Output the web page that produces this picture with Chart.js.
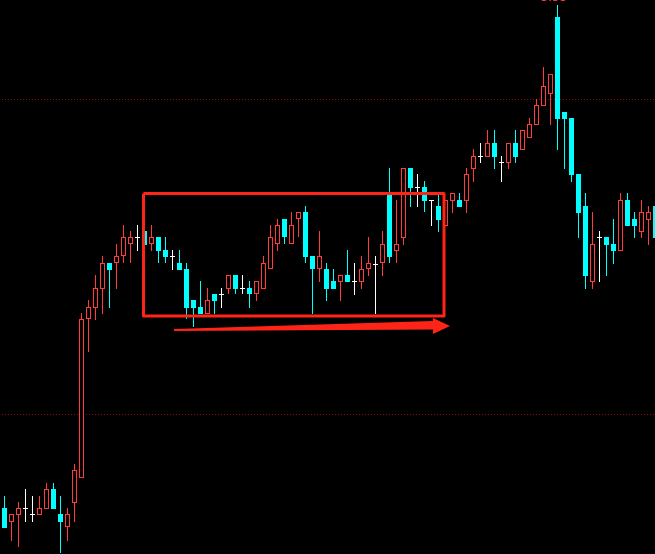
<!DOCTYPE html>
<html><head><meta charset="utf-8">
<script src="https://cdn.jsdelivr.net/npm/chart.js@4/dist/chart.umd.min.js"></script>
<style>html,body{margin:0;padding:0;background:#000;overflow:hidden}canvas{display:block;background:#000}</style>
</head><body><canvas id="c" width="655" height="554"></canvas>
<script>
// OHLC values (price units)
const opens  = [46,32,39,46,40,39,45,65,40,27,51,76,235,246,265,291,291,298,310,317,323,310,317,304,298,291,285,254,247,240,260,260,265,279,266,266,260,265,285,310,335,310,335,342,298,285,285,273,272,279,273,272,285,290,291,359,303,316,386,367,367,354,348,328,353,354,353,385,398,397,411,392,391,411,404,416,429,448,460,537,442,436,380,348,272,317,317,310,303,354,335,322,334,348];
const highs  = [58,40,52,65,58,58,71,71,58,46,90,241,254,279,298,291,310,329,323,329,323,329,317,317,304,304,291,254,273,266,260,266,279,279,279,273,273,298,329,335,335,342,342,348,298,323,291,285,279,304,291,298,317,298,323,386,354,386,386,380,373,354,359,354,361,361,386,405,411,424,424,398,411,424,424,436,455,487,480,549,442,436,380,361,342,323,317,335,361,361,342,354,348,348];
const lows   = [26,13,7,32,32,39,45,45,1,13,32,76,202,234,240,246,265,291,291,303,306,303,291,291,284,284,235,227,240,240,240,246,260,260,260,246,253,265,285,303,310,310,317,291,240,272,253,265,253,272,259,265,278,240,278,291,291,309,347,347,342,328,322,328,341,347,341,372,391,397,385,372,385,391,404,416,429,448,429,404,385,372,316,265,265,272,278,290,303,328,316,316,309,316];
const closes = [26,40,46,46,40,46,65,45,32,40,84,235,247,266,291,284,298,317,317,317,309,317,303,297,298,284,246,246,240,254,253,260,279,265,266,260,273,291,317,329,317,329,342,297,285,298,265,265,279,272,273,285,291,290,310,297,310,386,366,367,353,354,334,354,361,347,380,398,398,411,397,392,411,397,424,430,449,468,480,435,435,379,341,278,310,317,309,303,354,328,328,342,342,316];
const sessions = opens.map((_, i) => i + 1);
// reference levels (dotted lines) and annotation shapes, in (session index, price)
const levels = [454.5, 139.5];
const boxCorners = [[19.857,360.5],[62.786,360.5],[62.786,238],[19.857,238],[19.857,360.5]];
const arrowShape = [[24.214,225],[61.214,233],[61.214,236],[63.643,228],[61.214,220],[61.214,224.5],[24.214,223]];
const peakLabel = '3.33';

const RED = '#ff3b3b', CYAN = '#00ffff', WHITE = '#ffffff', MARK = '#ff2418';
const kind = opens.map((o, i) => closes[i] > o ? 'up' : closes[i] < o ? 'down' : 'flat');
const colFor = k => k === 'up' ? RED : k === 'down' ? CYAN : WHITE;

const wickData = sessions.map((s, i) => ({x: i, y: [lows[i], highs[i]]}));
const bodyData = sessions.map((s, i) => ({x: i, y: kind[i] === 'flat' ? [closes[i] - 1, closes[i]] : [opens[i], closes[i]]}));

const xMin = -0.643, xMax = xMin + 655 / 7;

const annot = {
  id: 'annot',
  afterDatasetsDraw(chart) {
    const {ctx, scales: {x, y}} = chart;
    ctx.save();
    ctx.fillStyle = MARK;
    ctx.beginPath();
    arrowShape.forEach(([a, b], j) => {
      const px = x.getPixelForValue(a), py = y.getPixelForValue(b);
      j ? ctx.lineTo(px, py) : ctx.moveTo(px, py);
    });
    ctx.closePath();
    ctx.fill();
    ctx.fillStyle = RED;
    ctx.font = '12px "DejaVu Sans"';
    ctx.textAlign = 'center';
    ctx.textBaseline = 'alphabetic';
    ctx.fillText(peakLabel, x.getPixelForValue(78.5), y.getPixelForValue(553));
    ctx.restore();
  }
};

new Chart(document.getElementById('c'), {
  data: {
    datasets: [
      ...levels.map(v => ({
        type: 'line', order: 5,
        data: [{x: xMin - 1, y: v}, {x: xMax + 1, y: v}],
        borderColor: '#8e0b0b', borderWidth: 1, borderDash: [1, 2], pointRadius: 0
      })),
      {
        type: 'bar', order: 3, grouped: false,
        data: wickData, barThickness: 1,
        backgroundColor: kind.map(colFor), borderWidth: 0, inflateAmount: 0
      },
      {
        type: 'bar', order: 2, grouped: false,
        data: bodyData, barThickness: 5,
        backgroundColor: kind.map(k => k === 'up' ? '#000000' : colFor(k)),
        borderColor: kind.map(colFor),
        borderWidth: kind.map(k => k === 'up' ? 1 : 0),
        borderSkipped: false, inflateAmount: 0
      },
      {
        type: 'line', order: 1,
        data: boxCorners.map(([a, b]) => ({x: a, y: b})),
        borderColor: MARK, borderWidth: 3, pointRadius: 0, borderJoinStyle: 'round', tension: 0
      }
    ]
  },
  options: {
    responsive: false, animation: false, devicePixelRatio: 1,
    layout: {padding: 0},
    plugins: {legend: {display: false}, tooltip: {enabled: false}},
    scales: {
      x: {type: 'linear', display: false, offset: false, min: xMin, max: xMax},
      y: {type: 'linear', display: false, min: 0, max: 554}
    }
  },
  plugins: [annot]
});
</script>
</body></html>
